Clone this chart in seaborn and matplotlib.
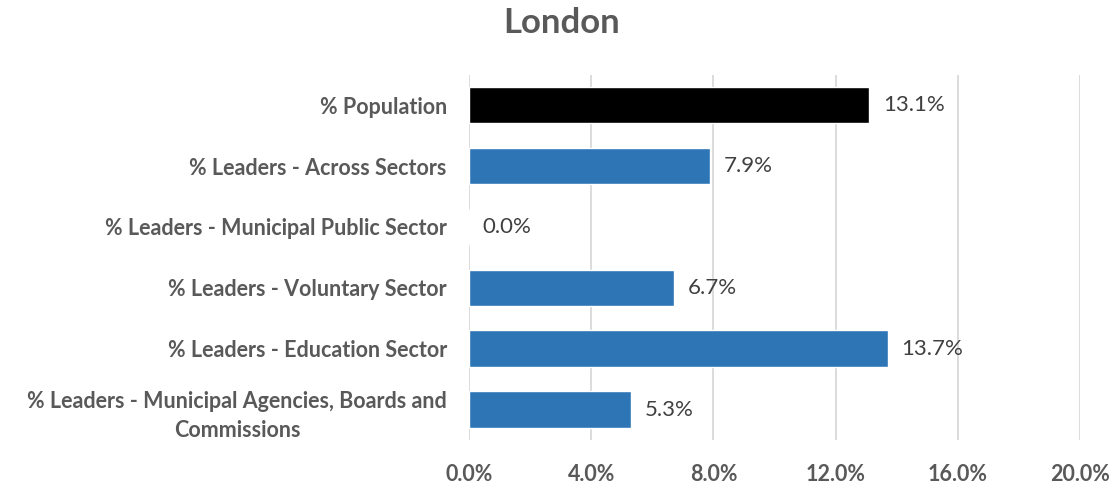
import matplotlib
matplotlib.use("Agg")
import matplotlib.pyplot as plt
import seaborn as sns
import pandas as pd
from matplotlib.ticker import FuncFormatter

categories = [
    "% Population",
    "% Leaders - Across Sectors",
    "% Leaders - Municipal Public Sector",
    "% Leaders - Voluntary Sector",
    "% Leaders - Education Sector",
    "% Leaders - Municipal Agencies, Boards and\nCommissions",
]
values = [13.1, 7.9, 0.0, 6.7, 13.7, 5.3]
bar_colors = ["#000000", "#2e75b6", "#2e75b6", "#2e75b6", "#2e75b6", "#2e75b6"]
x_ticks = [0, 4, 8, 12, 16, 20]

df = pd.DataFrame({"category": categories, "value": values})

sns.set_style("white")
plt.rcParams["font.family"] = ["Lato", "DejaVu Sans"]

fig = plt.figure(figsize=(11.13, 4.87), dpi=100)
ax = fig.add_axes([0.4214, 0.0965, 0.549, 0.75])

sns.barplot(data=df, x="value", y="category", hue="category", palette=bar_colors,
            saturation=1, legend=False, width=0.6, ax=ax, zorder=3)

ax.set_xlim(0, 20)
ax.set_xticks(x_ticks)
ax.xaxis.set_major_formatter(FuncFormatter(lambda v, p: f"{v:.1f}%"))
ax.grid(axis="x", color="#d9d9d9", linewidth=1.3, zorder=0)
ax.grid(axis="y", visible=False)
for s in ax.spines.values():
    s.set_visible(False)
ax.set_xlabel("")
ax.set_ylabel("")
ax.tick_params(axis="x", length=0, pad=17, labelsize=15.5, labelcolor="#595959")
ax.tick_params(axis="y", length=0, pad=16, labelsize=15.5, labelcolor="#595959")
for lbl in ax.get_xticklabels() + ax.get_yticklabels():
    lbl.set_fontweight("bold")
for lbl in ax.get_yticklabels():
    lbl.set_multialignment("center")
    lbl.set_linespacing(1.5)

for i, v in enumerate(values):
    ax.text(v + 0.45, i, f"{v:.1f}%", va="center", ha="left", fontsize=16,
            color="#404040", zorder=4)

fig.suptitle("London", fontsize=25, fontweight="bold", color="#595959", x=0.505, y=0.985)

plt.savefig("out.png", dpi=100)
plt.close()
